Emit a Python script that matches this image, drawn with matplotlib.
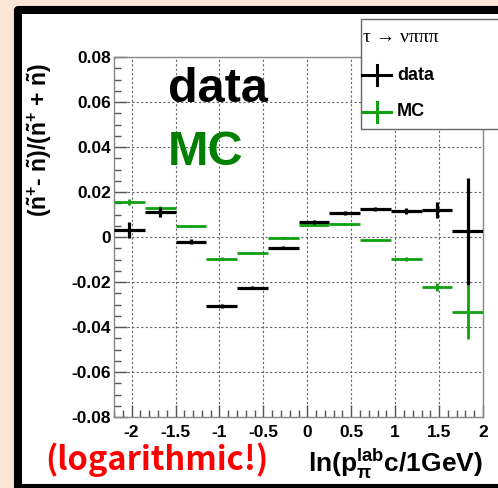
import numpy as np
import matplotlib.pyplot as plt
from matplotlib.patches import Rectangle
from matplotlib.lines import Line2D
from matplotlib.ticker import MultipleLocator

# bins in ln(p) (width 0.35 from -2.2 to 2.0)
x_center = [-2.025, -1.675, -1.325, -0.975, -0.625, -0.275, 0.075, 0.425, 0.775, 1.125, 1.475, 1.825]
x_half = 0.175

data_y = [0.0032, 0.0111, -0.0021, -0.0308, -0.0225, -0.0048, 0.0067, 0.0108, 0.0126, 0.0117, 0.0121, 0.0025]
data_err = [0.0036, 0.0022, 0.0012, 0.0009, 0.0007, 0.0007, 0.0009, 0.0008, 0.0009, 0.0013, 0.0036, 0.0237]
mc_y = [0.0156, 0.0127, 0.0049, -0.0096, -0.0071, -0.0004, 0.0052, 0.0058, -0.0013, -0.0099, -0.0222, -0.0332]
mc_err = [0.0012, 0.0010, 0.0006, 0.0006, 0.0005, 0.0005, 0.0005, 0.0005, 0.0005, 0.0008, 0.0017, 0.0120]

x_ticks = [-2, -1.5, -1, -0.5, 0, 0.5, 1, 1.5, 2]
x_ticklabels = ["-2", "-1.5", "-1", "-0.5", "0", "0.5", "1", "1.5", "2"]
y_ticks = [-0.08, -0.06, -0.04, -0.02, 0, 0.02, 0.04, 0.06, 0.08]
y_ticklabels = ["-0.08", "-0.06", "-0.04", "-0.02", "0", "0.02", "0.04", "0.06", "0.08"]

plt.rcParams['mathtext.fontset'] = 'custom'
plt.rcParams['mathtext.rm'] = 'Liberation Sans:bold'
plt.rcParams['mathtext.it'] = 'Liberation Sans:bold'
plt.rcParams['mathtext.bf'] = 'Liberation Sans:bold'
plt.rcParams['mathtext.sf'] = 'Liberation Sans:bold'

W, H = 498, 488


def fx(px):
    return px / W


def fy(py):
    # pixel row from top -> figure fraction
    return (H - py) / H


fig = plt.figure(figsize=(4.98, 4.88), dpi=100)
fig.patch.set_facecolor("#fbe5d6")

# black slide frame (right side runs off the picture)
frame = Rectangle((fx(17.5), fy(487.5)), 2.0, fy(10) - fy(487.5), transform=fig.transFigure,
                  facecolor="white", edgecolor="black", linewidth=5.8, joinstyle="round", zorder=-10)
fig.add_artist(frame)

ax = fig.add_axes([fx(114), fy(417), fx(483) - fx(114), fy(57) - fy(417)])
ax.set_facecolor("white")

black = "#000000"
green = "#10a010"
ax.errorbar(x_center, mc_y, xerr=x_half, yerr=mc_err, fmt="none", ecolor=green,
            elinewidth=2.0, capsize=0, zorder=3)
ax.errorbar(x_center, data_y, xerr=x_half, yerr=data_err, fmt="none", ecolor=black,
            elinewidth=2.3, capsize=0, zorder=4)

ax.set_xlim(-2.2, 2.0)
ax.set_ylim(-0.08, 0.08)
ax.set_xticks(x_ticks)
ax.set_xticklabels(x_ticklabels)
ax.set_yticks(y_ticks)
ax.set_yticklabels(y_ticklabels)
ax.xaxis.set_minor_locator(MultipleLocator(0.1))
ax.yaxis.set_minor_locator(MultipleLocator(0.005))

for lab in ax.get_xticklabels() + ax.get_yticklabels():
    lab.set_fontweight("bold")
    lab.set_fontfamily("Liberation Sans")
    lab.set_fontsize(12.5)

ax.tick_params(which="major", direction="in", length=9, width=1, color="#555555", pad=2)
ax.tick_params(which="minor", direction="in", length=5, width=1, color="#555555")
ax.tick_params(axis="x", which="major", pad=6)
ax.tick_params(top=False, right=False, which="both")

for sp in ax.spines.values():
    sp.set_color("#888888")
    sp.set_linewidth(1)

ax.grid(True, which="major", linestyle=(0, (2, 2)), linewidth=0.8, color="#666666")
ax.set_axisbelow(True)

# big labels
fig.text(fx(168), fy(102), "data", fontsize=35, fontweight="bold", family="Liberation Sans",
         color="black", va="baseline")
fig.text(fx(168), fy(165), "MC", fontsize=35, fontweight="bold", family="Liberation Sans",
         color="#008000", va="baseline")

# axis titles
fig.text(fx(40), fy(140), r"($\tilde{n}^{+}$- $\tilde{n}$)/($\tilde{n}^{+}$ + $\tilde{n}$)",
         fontsize=16.5, fontweight="bold", family="Liberation Sans",
         rotation=90, ha="center", va="center")
fig.text(fx(483), fy(472), r"$\mathrm{ln(p_{\pi}^{lab}c/1GeV)}$", fontsize=19,
         ha="right", va="baseline")
fig.text(fx(45), fy(470), "(logarithmic!)", fontsize=23.5, fontweight="bold",
         family=["Noto Sans CJK JP", "DejaVu Sans"], color="#ff0000", va="baseline")

# legend box
leg = Rectangle((fx(361), fy(129)), 2.0, fy(19) - fy(129), transform=fig.transFigure,
                facecolor="white", edgecolor="#666666", linewidth=1, zorder=5)
fig.add_artist(leg)
fig.text(fx(363), fy(37), "τ → νπππ", fontsize=14,
         family=["Liberation Serif", "DejaVu Serif", "DejaVu Sans"],
         va="center", zorder=6)
for col, yc, name in [(black, 75, "data"), (green, 112, "MC")]:
    fig.add_artist(Line2D([fx(362), fx(391)], [fy(yc), fy(yc)], transform=fig.transFigure,
                          color=col, linewidth=2.2, zorder=6))
    fig.add_artist(Line2D([fx(376.5), fx(376.5)], [fy(yc - 10), fy(yc + 10)], transform=fig.transFigure,
                          color=col, linewidth=2.2, zorder=6))
    fig.text(fx(397), fy(yc), name, fontsize=13, fontweight="bold", family="Liberation Sans",
             va="center", zorder=6)

fig.savefig("out.png", dpi=100, facecolor=fig.get_facecolor())
